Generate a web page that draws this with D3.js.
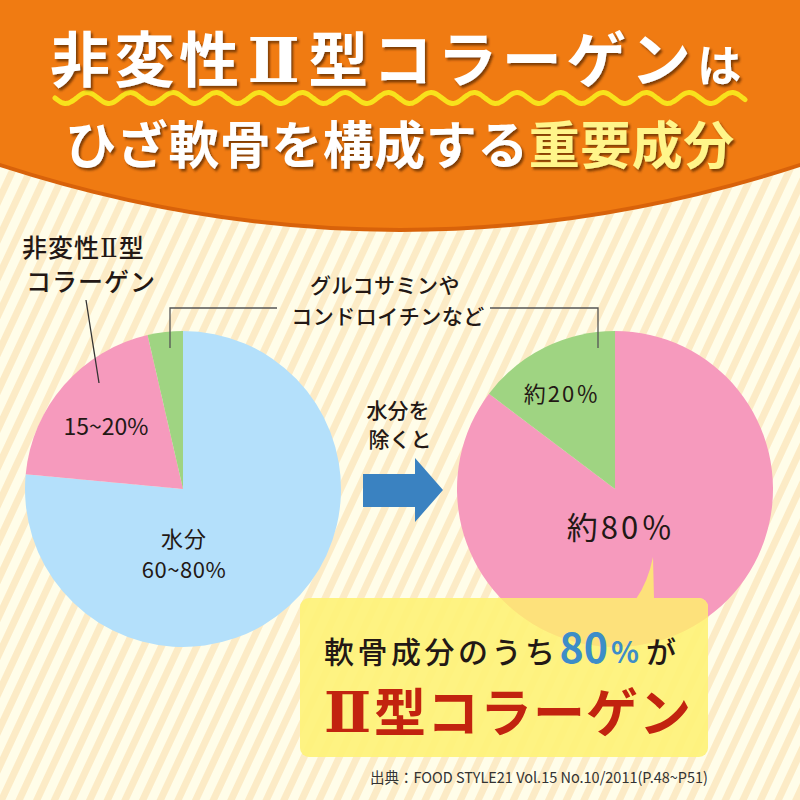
<!DOCTYPE html>
<html><head><meta charset="utf-8">
<script src="https://cdn.jsdelivr.net/npm/d3@7"></script>
<style>html,body{margin:0;padding:0;background:#fffde9;}svg{display:block;}</style>
</head><body>
<script>
// ---- data ----
const leftCategories = ["水分", "非変性Ⅱ型コラーゲン", "グルコサミンやコンドロイチンなど"];
const leftValues = [76.5, 19.9, 3.6];
const rightCategories = ["非変性Ⅱ型コラーゲン", "グルコサミンやコンドロイチンなど"];
const rightValues = [85.3, 14.7];
const leftLabels = ["水分", "60~80%", "15~20%"];
const rightLabels = ["約80％", "約20％"];
const sourceText = "出典：FOOD STYLE21 Vol.15 No.10/2011(P.48~P51)";

const W = 800, H = 800;
const FONT = "'Noto Sans CJK JP', 'Noto Sans', sans-serif";
const SERIF = "'DejaVu Serif', 'Liberation Serif', serif";
const colorMap = {
  "水分": "#b4e0fb",
  "非変性Ⅱ型コラーゲン": "#f69abd",
  "グルコサミンやコンドロイチンなど": "#9fd482"
};

const svg = d3.select("body").append("svg").attr("width", W).attr("height", H)
  .style("font-family", FONT);
const defs = svg.append("defs");

// writes text into a <text>, rendering "Ⅱ" in a serif face
function richText(sel, str, serifSize) {
  str.split(/(Ⅱ)/).filter(s => s.length).forEach(part => {
    const ts = sel.append("tspan").text(part);
    if (part === "Ⅱ") ts.style("font-family", SERIF).attr("font-size", serifSize);
  });
  return sel;
}

// stripes pattern
const pat = defs.append("pattern").attr("id", "stripes").attr("patternUnits", "userSpaceOnUse")
  .attr("width", 16).attr("height", 16).attr("patternTransform", "rotate(25)");
pat.append("rect").attr("width", 16).attr("height", 16).attr("fill", "#fffde9");
pat.append("rect").attr("width", 7).attr("height", 16).attr("fill", "#fcebc6");
svg.append("rect").attr("width", W).attr("height", H).attr("fill", "url(#stripes)");

// header
const f = defs.append("filter").attr("id", "shadow").attr("x", "-10%").attr("y", "-10%").attr("width", "120%").attr("height", "130%");
f.append("feDropShadow").attr("dx", 2).attr("dy", 2.5).attr("stdDeviation", 0.8)
  .attr("flood-color", "#5a2a05").attr("flood-opacity", 0.75);

svg.append("path").attr("d", "M0,0 H800 V167 Q400,297 0,167 Z").attr("fill", "#d8620a");
svg.append("path").attr("d", "M0,0 H800 V163 Q400,293 0,163 Z").attr("fill", "#f07b12");

// wavy line
const waveY = 98, amp = 5.5, period = 43;
const wavePts = d3.range(55, 746, 2).map(x => [x, waveY + amp * Math.sin((x - 55) / period * 2 * Math.PI)]);
svg.append("path").attr("d", d3.line().curve(d3.curveBasis)(wavePts))
  .attr("fill", "none").attr("stroke", "#f8e21c").attr("stroke-width", 5).attr("stroke-linecap", "round");

const t1 = svg.append("text").attr("x", 50).attr("y", 82).attr("fill", "#fff")
  .attr("font-weight", 700).attr("filter", "url(#shadow)");
const t1a = t1.append("tspan").attr("font-size", 60).attr("letter-spacing", 4.5);
t1a.append("tspan").text("非変性");
t1a.append("tspan").style("font-family", SERIF).attr("font-size", 62).attr("dx", 4).text("Ⅱ");
t1a.append("tspan").attr("dx", 4).text("型コラーゲン");
t1.append("tspan").attr("font-size", 44).attr("dx", 2).text("は");

const t2 = svg.append("text").attr("x", 400).attr("y", 164).attr("text-anchor", "middle")
  .attr("font-weight", 700).attr("font-size", 51).attr("letter-spacing", 0.5).attr("filter", "url(#shadow)");
t2.append("tspan").attr("fill", "#fff").text("ひざ軟骨を構成する");
t2.append("tspan").attr("fill", "#fff58a").text("重要成分");

// pies
const R = 158;
const pie = d3.pie().sort(null).value(d => d.v);
const arc = d3.arc().innerRadius(0).outerRadius(R);
const leftData = leftCategories.map((c, i) => ({c, v: leftValues[i]}));
const rightData = rightCategories.map((c, i) => ({c, v: rightValues[i]}));

svg.append("g").attr("transform", "translate(183,489)")
  .selectAll("path").data(pie(leftData)).join("path")
  .attr("d", arc).attr("fill", d => colorMap[d.data.c]);
svg.append("g").attr("transform", "translate(615,489)")
  .selectAll("path").data(pie(rightData)).join("path")
  .attr("d", arc).attr("fill", d => colorMap[d.data.c]);

// leader lines
svg.append("path").attr("d", "M170,348 V308 H277").attr("fill", "none").attr("stroke", "#555").attr("stroke-width", 1.3);
svg.append("path").attr("d", "M490,308 H598 V348").attr("fill", "none").attr("stroke", "#555").attr("stroke-width", 1.3);
svg.append("path").attr("d", "M86,300 L99,383").attr("fill", "none").attr("stroke", "#333").attr("stroke-width", 1.3);

// labels
const lab = (x, y, s, txt, anchor = "middle", w = 500, ls = 0) => {
  const t = svg.append("text").attr("x", x).attr("y", y)
    .attr("font-size", s).attr("text-anchor", anchor).attr("font-weight", w)
    .attr("letter-spacing", ls).attr("fill", "#231815");
  return richText(t, txt, s + 1);
};

lab(22, 257, 25, "非変性Ⅱ型", "start", 500, 1);
lab(26, 291, 25, "コラーゲン", "start", 500, 1);
lab(385, 293, 21, "グルコサミンや", "middle", 500, 0.5);
lab(388, 324, 21, "コンドロイチンなど", "middle", 500, 0.5);
lab(106, 435, 23, leftLabels[2], "middle", 400);
lab(184, 547, 22, leftLabels[0], "middle", 400, 1);
lab(184, 578, 22, leftLabels[1], "middle", 400, 0.5);
lab(398, 418, 21, "水分を");
lab(400, 447, 21, "除くと");
lab(562, 402, 22, rightLabels[1], "middle", 400, 2);
lab(621, 539, 31, rightLabels[0], "middle", 400, 3);

// arrow
svg.append("path").attr("d", "M363,474 H415 V458 L443,490 L415,522 V507 H363 Z").attr("fill", "#3a82c1");

// callout box
svg.append("rect").attr("x", 300).attr("y", 598).attr("width", 408).attr("height", 159).attr("rx", 9)
  .attr("fill", "#fef27a").attr("fill-opacity", 0.93);
defs.append("clipPath").attr("id", "boxclip").append("rect")
  .attr("x", 300).attr("y", 598).attr("width", 408).attr("height", 159).attr("rx", 9);
svg.append("g").attr("clip-path", "url(#boxclip)").append("g").attr("transform", "translate(615,489)")
  .selectAll("path").data(pie(rightData)).join("path").attr("d", arc).attr("fill", "#fde17b");
svg.append("path").attr("d", "M636,599 Q648,582 653,557 L654,599 Z").attr("fill", "#fde17b");

const c1 = svg.append("text").attr("x", 500).attr("y", 663).attr("text-anchor", "middle").attr("fill", "#231815");
c1.append("tspan").attr("font-size", 30).attr("font-weight", 500).attr("letter-spacing", 3.5).text("軟骨成分のうち");
c1.append("tspan").attr("font-size", 41).attr("font-weight", 700).attr("fill", "#3d8dc8").attr("dx", 1).text("80");
c1.append("tspan").attr("font-size", 29).attr("font-weight", 700).attr("fill", "#3d8dc8").attr("dx", 3).text("%");
c1.append("tspan").attr("font-size", 30).attr("font-weight", 500).attr("dx", 7).text("が");

const c2 = svg.append("text").attr("x", 508).attr("y", 732).attr("text-anchor", "middle")
  .attr("font-size", 52).attr("font-weight", 700).attr("fill", "#c2230f").attr("letter-spacing", 1);
c2.append("tspan").style("font-family", SERIF).attr("font-size", 56).text("Ⅱ");
c2.append("tspan").attr("dx", 2).text("型コラーゲン");

// source
svg.append("text").attr("x", 370).attr("y", 783).attr("font-size", 15).attr("fill", "#333")
  .attr("textLength", 338).attr("lengthAdjust", "spacingAndGlyphs").text(sourceText);
</script>
</body></html>
